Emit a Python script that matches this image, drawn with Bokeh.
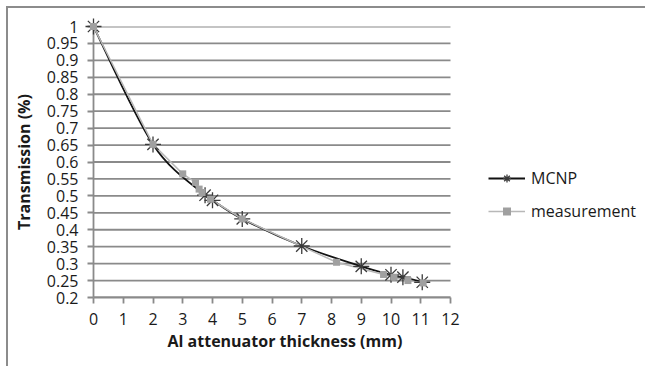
import numpy as np
from bokeh.plotting import figure
from bokeh.models import Legend, LegendItem, FixedTicker, Range1d, ColumnDataSource, Title
from bokeh.embed import file_html
from bokeh.resources import INLINE

# ---- data ----
mcnp_x = [0, 2, 3.75, 4, 5, 7, 9, 10, 10.4, 11.05]
mcnp_y = [1.0, 0.652, 0.502, 0.487, 0.432, 0.352, 0.292, 0.267, 0.260, 0.245]

meas_x = [0, 2, 3, 3.43, 3.55, 3.65, 3.93, 5, 8.17, 9.75, 10.1, 10.57, 11.08]
meas_y = [1.0, 0.652, 0.565, 0.540, 0.520, 0.510, 0.490, 0.432, 0.304, 0.268, 0.260, 0.250, 0.243]

x_ticks = [0, 1, 2, 3, 4, 5, 6, 7, 8, 9, 10, 11, 12]
y_ticks = [0.2, 0.25, 0.3, 0.35, 0.4, 0.45, 0.5, 0.55, 0.6, 0.65, 0.7, 0.75, 0.8, 0.85, 0.9, 0.95, 1.0]
y_labels = ["0.2", "0.25", "0.3", "0.35", "0.4", "0.45", "0.5", "0.55", "0.6", "0.65",
            "0.7", "0.75", "0.8", "0.85", "0.9", "0.95", "1"]

x_title = "Al attenuator thickness (mm)"
y_title = "Transmission (%)"
series_names = ["MCNP", "measurement"]

FONT = "Open Sans"
GRID = "#8a8a8a"
TXT = "#1a1a1a"

# layout (pixels): plot area 357 px wide for 0..12; legend area to its right
PLOT_W, FRAME_W = 357, 554
x_view_max = x_ticks[-1] * FRAME_W / PLOT_W

# smoothed (Excel-like) curve: cubic Bezier segments with Catmull-Rom control points
def bezier_segments(xs, ys):
    px = np.array(xs, float); py = np.array(ys, float)
    n = len(px)
    ex = np.concatenate([[px[0]], px, [px[-1]]])
    ey = np.concatenate([[py[0]], py, [py[-1]]])
    d = dict(x0=[], y0=[], x1=[], y1=[], cx0=[], cy0=[], cx1=[], cy1=[])
    for i in range(n - 1):
        j = i + 1
        d["x0"].append(px[i]); d["y0"].append(py[i])
        d["x1"].append(px[i + 1]); d["y1"].append(py[i + 1])
        d["cx0"].append(px[i] + (ex[j + 1] - ex[j - 1]) / 6)
        d["cy0"].append(py[i] + (ey[j + 1] - ey[j - 1]) / 6)
        d["cx1"].append(px[i + 1] - (ex[j + 2] - ex[j]) / 6)
        d["cy1"].append(py[i + 1] - (ey[j + 2] - ey[j]) / 6)
    return d

p = figure(width=639, height=360,
           x_range=Range1d(x_ticks[0], x_view_max), y_range=Range1d(y_ticks[0], y_ticks[-1]),
           output_backend="svg", toolbar_location=None,
           min_border_left=85, min_border_right=0, min_border_top=18, min_border_bottom=71,
           styles={"margin-left": "6px", "margin-top": "6px",
                   "border-left": "2px solid #8c8c8c", "border-top": "2px solid #8c8c8c"})
p.outline_line_color = None
p.background_fill_color = "white"
p.border_fill_color = "white"

# axes
p.xaxis.ticker = FixedTicker(ticks=x_ticks)
p.xaxis.bounds = (x_ticks[0], x_ticks[-1])
p.yaxis.ticker = FixedTicker(ticks=y_ticks)
p.yaxis.major_label_overrides = {t: l for t, l in zip(y_ticks, y_labels)}
for ax in (p.xaxis[0], p.yaxis[0]):
    ax.axis_line_color = GRID
    ax.axis_line_width = 1.8
    ax.major_tick_line_color = GRID
    ax.major_tick_line_width = 1.8
    ax.major_tick_out = 6
    ax.major_tick_in = 0
    ax.minor_tick_line_color = None
    ax.major_label_text_font = FONT
    ax.major_label_text_font_size = "16px"
    ax.major_label_text_color = TXT
    ax.axis_label_text_font = FONT
    ax.axis_label_text_font_size = "16px"
    ax.axis_label_text_font_style = "bold"
    ax.axis_label_text_color = TXT
p.yaxis.axis_label = y_title
p.xaxis.major_label_standoff = 9
p.yaxis.major_label_standoff = 9
p.yaxis.axis_label_standoff = 9

# x-axis title centred under the 0..12 plot area
p.add_layout(Title(text=x_title, align="left", offset=74, standoff=0,
                   text_font=FONT, text_font_size="16px", text_font_style="bold",
                   text_color=TXT), "below")

# horizontal gridlines only across the 0..12 plot area
p.xgrid.visible = False
p.ygrid.visible = False
p.segment(x0=x_ticks[0], x1=x_ticks[-1], y0=y_ticks, y1=y_ticks,
          line_color=GRID, line_width=1.8)

# MCNP
bz = p.bezier(source=ColumnDataSource(bezier_segments(mcnp_x, mcnp_y)),
              x0="x0", y0="y0", x1="x1", y1="y1", cx0="cx0", cy0="cy0", cx1="cx1", cy1="cy1",
              line_color="#111111", line_width=1.8)
st = p.scatter(mcnp_x, mcnp_y, marker="asterisk", size=16, line_color="#3a3a3a",
               line_width=1.3, level="overlay")

# measurement
ml = p.line(meas_x, meas_y, line_color="#b8b8b8", line_width=1.5)
sq = p.scatter(meas_x, meas_y, marker="square", size=7, fill_color="#a0a0a0",
               line_color=None, level="overlay")

legend = Legend(items=[LegendItem(label=series_names[0], renderers=[bz, st]),
                       LegendItem(label=series_names[1], renderers=[ml, sq])],
                location=(395, 75), orientation="vertical")
legend.label_text_font = FONT
legend.label_text_font_size = "16px"
legend.label_text_color = TXT
legend.glyph_width = 37
legend.glyph_height = 20
legend.spacing = 11
legend.label_standoff = 6
legend.padding = 0
legend.margin = 0
legend.border_line_color = None
legend.background_fill_alpha = 0
p.add_layout(legend, "center")

open("out.html", "w").write(file_html(p, INLINE))
